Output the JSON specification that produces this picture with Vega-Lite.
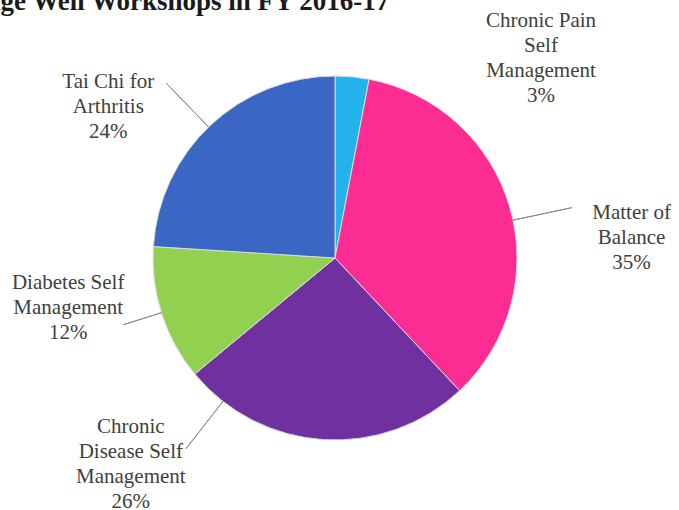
{
  "$schema": "https://vega.github.io/schema/vega-lite/v6.json",
  "autosize": {"type": "none"},
  "width": 670,
  "height": 504,
  "padding": {"left": 0, "top": 6, "right": 9, "bottom": 0},
  "background": "white",
  "config": {"view": {"stroke": null}},
  "title": {
    "text": "Age Well Workshops in FY 2016-17",
    "anchor": "start",
    "font": "Liberation Serif",
    "fontSize": 27,
    "fontWeight": "bold",
    "color": "#1a1a1a",
    "baseline": "alphabetic",
    "offset": -31,
    "dx": -19
  },
  "data": {
    "values": [
      {"category": "Chronic Pain Self Management", "label": "Chronic Pain\nSelf\nManagement\n3%", "value": 3, "rank": 1},
      {"category": "Matter of Balance", "label": "Matter of\nBalance\n35%", "value": 35, "rank": 2},
      {"category": "Chronic Disease Self Management", "label": "Chronic\nDisease Self\nManagement\n26%", "value": 26, "rank": 3},
      {"category": "Diabetes Self Management", "label": "Diabetes Self\nManagement\n12%", "value": 12, "rank": 4},
      {"category": "Tai Chi for Arthritis", "label": "Tai Chi for\nArthritis\n24%", "value": 24, "rank": 5}
    ]
  },
  "transform": [
    {"stack": "value", "groupby": [], "sort": [{"field": "rank", "order": "ascending"}], "as": ["v0", "v1"]}
  ],
  "encoding": {
    "theta": {"field": "v0", "type": "quantitative", "stack": null, "scale": {"domain": [0, 100]}}
  },
  "layer": [
    {
      "mark": {"type": "arc", "radius": 182, "stroke": "#dcdcdc", "strokeWidth": 1},
      "encoding": {
        "theta2": {"field": "v1"},
        "color": {
          "field": "category",
          "type": "nominal",
          "legend": null,
          "scale": {
            "domain": ["Chronic Pain Self Management", "Matter of Balance", "Chronic Disease Self Management", "Diabetes Self Management", "Tai Chi for Arthritis"],
            "range": ["#22b2ec", "#fd2c93", "#7030a0", "#92d050", "#3a66c4"]
          }
        }
      }
    },
    {
      "transform": [{"filter": "datum.category === 'Matter of Balance'"}],
      "mark": {"type": "arc", "radius": 242, "radius2": 182, "thetaOffset": 1.1729, "theta2Offset": 1.1729, "fillOpacity": 0, "stroke": "#8c8c8c", "strokeWidth": 1},
      "encoding": {"theta2": {"field": "v0"}}
    },
    {
      "transform": [{"filter": "datum.category === 'Diabetes Self Management'"}],
      "mark": {"type": "arc", "radius": 222, "radius2": 182, "thetaOffset": 0.3857, "theta2Offset": 0.3857, "fillOpacity": 0, "stroke": "#8c8c8c", "strokeWidth": 1},
      "encoding": {"theta2": {"field": "v0"}}
    },
    {
      "transform": [{"filter": "datum.category === 'Tai Chi for Arthritis'"}],
      "mark": {"type": "arc", "radius": 243, "radius2": 182, "thetaOffset": 0.7401, "theta2Offset": 0.7401, "fillOpacity": 0, "stroke": "#8c8c8c", "strokeWidth": 1},
      "encoding": {"theta2": {"field": "v0"}}
    },
    {
      "transform": [{"filter": "datum.category === 'Chronic Disease Self Management'"}],
      "mark": {"type": "arc", "radius": 242, "radius2": 182, "thetaOffset": 1.4172, "theta2Offset": 1.4172, "fillOpacity": 0, "stroke": "#8c8c8c", "strokeWidth": 1},
      "encoding": {"theta2": {"field": "v0"}}
    },
    {
      "transform": [{"filter": "datum.category === 'Chronic Pain Self Management'"}],
      "mark": {"type": "text", "radius": 314, "thetaOffset": 0.7156, "font": "Liberation Serif", "fontSize": 21, "lineHeight": 25, "lineBreak": "\n", "color": "#404040", "align": "center", "baseline": "middle"},
      "encoding": {"text": {"field": "label", "type": "nominal"}}
    },
    {
      "transform": [{"filter": "datum.category === 'Matter of Balance'"}],
      "mark": {"type": "text", "radius": 300, "thetaOffset": 1.2315, "font": "Liberation Serif", "fontSize": 21, "lineHeight": 25, "lineBreak": "\n", "color": "#404040", "align": "center", "baseline": "middle"},
      "encoding": {"text": {"field": "label", "type": "nominal"}}
    },
    {
      "transform": [{"filter": "datum.category === 'Chronic Disease Self Management'"}],
      "mark": {"type": "text", "radius": 265, "thetaOffset": 1.6336, "font": "Liberation Serif", "fontSize": 21, "lineHeight": 25, "lineBreak": "\n", "color": "#404040", "align": "center", "baseline": "middle"},
      "encoding": {"text": {"field": "label", "type": "nominal"}}
    },
    {
      "transform": [{"filter": "datum.category === 'Diabetes Self Management'"}],
      "mark": {"type": "text", "radius": 268, "thetaOffset": 0.5978, "font": "Liberation Serif", "fontSize": 21, "lineHeight": 25, "lineBreak": "\n", "color": "#404040", "align": "center", "baseline": "middle"},
      "encoding": {"text": {"field": "label", "type": "nominal"}}
    },
    {
      "transform": [{"filter": "datum.category === 'Tai Chi for Arthritis'"}],
      "mark": {"type": "text", "radius": 287, "thetaOffset": 0.5969, "font": "Liberation Serif", "fontSize": 21, "lineHeight": 25, "lineBreak": "\n", "color": "#404040", "align": "center", "baseline": "middle"},
      "encoding": {"text": {"field": "label", "type": "nominal"}}
    }
  ]
}
